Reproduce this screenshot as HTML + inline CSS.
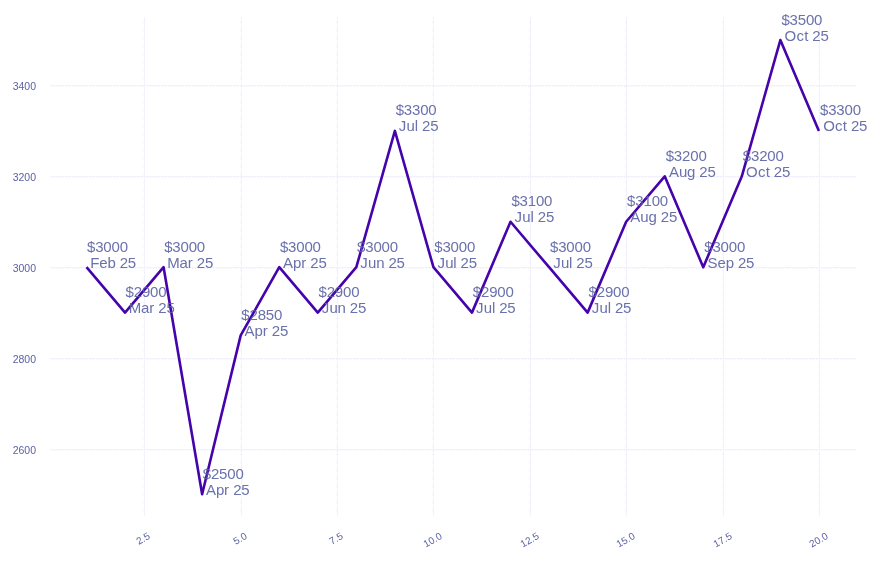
<!DOCTYPE html><html><head><meta charset="utf-8"><style>html,body{margin:0;padding:0;background:#fff;}svg{display:block;}text{font-family:"Liberation Sans",sans-serif;}</style></head><body>
<svg width="880" height="562" viewBox="0 0 880 562" style="will-change:transform">
<rect width="880" height="562" fill="#fff"/>
<line x1="50" x2="856" y1="449.5" y2="449.5" stroke="#f2f1fd" stroke-width="1"/>
<line x1="50" x2="856" y1="450.5" y2="450.5" stroke="#f0effc" stroke-width="1" stroke-dasharray="1 2" stroke-dashoffset="2"/>
<line x1="50" x2="856" y1="358.5" y2="358.5" stroke="#f2f1fd" stroke-width="1"/>
<line x1="50" x2="856" y1="359.5" y2="359.5" stroke="#f0effc" stroke-width="1" stroke-dasharray="1 2" stroke-dashoffset="2"/>
<line x1="50" x2="856" y1="267.5" y2="267.5" stroke="#f2f1fd" stroke-width="1"/>
<line x1="50" x2="856" y1="268.5" y2="268.5" stroke="#f0effc" stroke-width="1" stroke-dasharray="1 2" stroke-dashoffset="2"/>
<line x1="50" x2="856" y1="176.5" y2="176.5" stroke="#f2f1fd" stroke-width="1"/>
<line x1="50" x2="856" y1="177.5" y2="177.5" stroke="#f0effc" stroke-width="1" stroke-dasharray="1 2" stroke-dashoffset="2"/>
<line x1="50" x2="856" y1="85.5" y2="85.5" stroke="#f2f1fd" stroke-width="1"/>
<line x1="50" x2="856" y1="86.5" y2="86.5" stroke="#f0effc" stroke-width="1" stroke-dasharray="1 2" stroke-dashoffset="2"/>
<line x1="144.5" x2="144.5" y1="17" y2="516" stroke="#f2f1fd" stroke-width="1"/>
<line x1="143.5" x2="143.5" y1="17" y2="516" stroke="#f0effc" stroke-width="1" stroke-dasharray="1 7" stroke-dashoffset="3"/>
<line x1="241.5" x2="241.5" y1="17" y2="516" stroke="#f2f1fd" stroke-width="1"/>
<line x1="240.5" x2="240.5" y1="17" y2="516" stroke="#f0effc" stroke-width="1" stroke-dasharray="1 7" stroke-dashoffset="3"/>
<line x1="337.5" x2="337.5" y1="17" y2="516" stroke="#f2f1fd" stroke-width="1"/>
<line x1="336.5" x2="336.5" y1="17" y2="516" stroke="#f0effc" stroke-width="1" stroke-dasharray="1 7" stroke-dashoffset="3"/>
<line x1="433.5" x2="433.5" y1="17" y2="516" stroke="#f2f1fd" stroke-width="1"/>
<line x1="432.5" x2="432.5" y1="17" y2="516" stroke="#f0effc" stroke-width="1" stroke-dasharray="1 7" stroke-dashoffset="3"/>
<line x1="530.5" x2="530.5" y1="17" y2="516" stroke="#f2f1fd" stroke-width="1"/>
<line x1="529.5" x2="529.5" y1="17" y2="516" stroke="#f0effc" stroke-width="1" stroke-dasharray="1 7" stroke-dashoffset="3"/>
<line x1="626.5" x2="626.5" y1="17" y2="516" stroke="#f2f1fd" stroke-width="1"/>
<line x1="625.5" x2="625.5" y1="17" y2="516" stroke="#f0effc" stroke-width="1" stroke-dasharray="1 7" stroke-dashoffset="3"/>
<line x1="723.5" x2="723.5" y1="17" y2="516" stroke="#f2f1fd" stroke-width="1"/>
<line x1="722.5" x2="722.5" y1="17" y2="516" stroke="#f0effc" stroke-width="1" stroke-dasharray="1 7" stroke-dashoffset="3"/>
<line x1="819.5" x2="819.5" y1="17" y2="516" stroke="#f2f1fd" stroke-width="1"/>
<line x1="818.5" x2="818.5" y1="17" y2="516" stroke="#f0effc" stroke-width="1" stroke-dasharray="1 7" stroke-dashoffset="3"/>
<text x="36" y="454.10" text-anchor="end" font-size="10.5" fill="#5b61a6">2600</text>
<text x="36" y="363.10" text-anchor="end" font-size="10.5" fill="#5b61a6">2800</text>
<text x="36" y="272.10" text-anchor="end" font-size="10.5" fill="#5b61a6">3000</text>
<text x="36" y="181.10" text-anchor="end" font-size="10.5" fill="#5b61a6">3200</text>
<text x="36" y="90.10" text-anchor="end" font-size="10.5" fill="#5b61a6">3400</text>
<text transform="translate(142.90,538.34) rotate(-30)" x="0" y="3.6" text-anchor="middle" font-size="10" fill="#5b61a6">2.5</text>
<text transform="translate(239.90,538.34) rotate(-30)" x="0" y="3.6" text-anchor="middle" font-size="10" fill="#5b61a6">5.0</text>
<text transform="translate(335.90,538.34) rotate(-30)" x="0" y="3.6" text-anchor="middle" font-size="10" fill="#5b61a6">7.5</text>
<text transform="translate(432.50,539.73) rotate(-30)" x="0" y="3.6" text-anchor="middle" font-size="10" fill="#5b61a6">10.0</text>
<text transform="translate(529.50,539.73) rotate(-30)" x="0" y="3.6" text-anchor="middle" font-size="10" fill="#5b61a6">12.5</text>
<text transform="translate(625.50,539.73) rotate(-30)" x="0" y="3.6" text-anchor="middle" font-size="10" fill="#5b61a6">15.0</text>
<text transform="translate(722.50,539.73) rotate(-30)" x="0" y="3.6" text-anchor="middle" font-size="10" fill="#5b61a6">17.5</text>
<text transform="translate(818.50,539.73) rotate(-30)" x="0" y="3.6" text-anchor="middle" font-size="10" fill="#5b61a6">20.0</text>
<polyline points="86.50,267.20 125.05,312.62 163.59,267.20 202.14,494.30 240.69,335.33 279.24,267.20 317.78,312.62 356.33,267.20 394.88,130.94 433.43,267.20 471.97,312.62 510.52,221.78 549.07,267.20 587.62,312.62 626.16,221.78 664.71,176.36 703.26,267.20 741.81,176.36 780.35,40.10 818.90,130.94" fill="none" stroke="#4503ab" stroke-width="2.6" stroke-linejoin="round" stroke-linecap="butt"/>
<text transform="translate(86.50,267.60) scale(1,1.0)" font-size="15" fill="#5a62a2" fill-opacity="0.9" xml:space="preserve"><tspan x="0.50 8.67 16.84 25.01 33.18" y="-16.00">$3000</tspan><tspan x="-0.40 3.68 12.77 20.94 29.11 33.19 41.36" y="0"> Feb 25</tspan></text>
<text transform="translate(125.05,313.02) scale(1,1.0)" font-size="15" fill="#5a62a2" fill-opacity="0.9" xml:space="preserve"><tspan x="0.53 8.70 16.88 25.05 33.22" y="-16.00">$2900</tspan><tspan x="-0.37 3.72 15.96 24.14 29.13 33.22 41.39" y="0"> Mar 25</tspan></text>
<text transform="translate(163.59,267.60) scale(1,1.0)" font-size="15" fill="#5a62a2" fill-opacity="0.9" xml:space="preserve"><tspan x="0.57 8.74 16.91 25.08 33.25" y="-16.00">$3000</tspan><tspan x="-0.33 3.75 16.00 24.17 29.17 33.25 41.42" y="0"> Mar 25</tspan></text>
<text transform="translate(202.14,494.70) scale(1,1.0)" font-size="15" fill="#5a62a2" fill-opacity="0.9" xml:space="preserve"><tspan x="0.60 8.77 16.94 25.11 33.28" y="-16.00">$2500</tspan><tspan x="-0.30 3.78 13.79 21.96 26.95 31.04 39.21" y="0"> Apr 25</tspan></text>
<text transform="translate(240.69,335.73) scale(1,1.0)" font-size="15" fill="#5a62a2" fill-opacity="0.9" xml:space="preserve"><tspan x="0.63 8.80 16.97 25.15 33.32" y="-16.00">$2850</tspan><tspan x="-0.27 3.82 13.82 21.99 26.99 31.07 39.24" y="0"> Apr 25</tspan></text>
<text transform="translate(279.24,267.60) scale(1,1.0)" font-size="15" fill="#5a62a2" fill-opacity="0.9" xml:space="preserve"><tspan x="0.67 8.84 17.01 25.18 33.35" y="-16.00">$3000</tspan><tspan x="-0.24 3.85 13.85 22.02 27.02 31.10 39.27" y="0"> Apr 25</tspan></text>
<text transform="translate(317.78,313.02) scale(1,1.0)" font-size="15" fill="#5a62a2" fill-opacity="0.9" xml:space="preserve"><tspan x="0.70 8.87 17.04 25.21 33.38" y="-16.00">$2900</tspan><tspan x="-0.20 3.88 11.63 19.80 27.97 32.06 40.23" y="0"> Jun 25</tspan></text>
<text transform="translate(356.33,267.60) scale(1,1.0)" font-size="15" fill="#5a62a2" fill-opacity="0.9" xml:space="preserve"><tspan x="0.73 8.90 17.07 25.24 33.42" y="-16.00">$3000</tspan><tspan x="-0.17 3.91 11.66 19.84 28.01 32.09 40.26" y="0"> Jun 25</tspan></text>
<text transform="translate(394.88,131.34) scale(1,1.0)" font-size="15" fill="#5a62a2" fill-opacity="0.9" xml:space="preserve"><tspan x="0.76 8.94 17.11 25.28 33.45" y="-16.00">$3300</tspan><tspan x="-0.14 3.95 11.70 19.87 23.04 27.12 35.29" y="0"> Jul 25</tspan></text>
<text transform="translate(433.43,267.60) scale(1,1.0)" font-size="15" fill="#5a62a2" fill-opacity="0.9" xml:space="preserve"><tspan x="0.80 8.97 17.14 25.31 33.48" y="-16.00">$3000</tspan><tspan x="-0.10 3.98 11.73 19.90 23.07 27.15 35.32" y="0"> Jul 25</tspan></text>
<text transform="translate(471.97,313.02) scale(1,1.0)" font-size="15" fill="#5a62a2" fill-opacity="0.9" xml:space="preserve"><tspan x="0.83 9.00 17.17 25.34 33.51" y="-16.00">$2900</tspan><tspan x="-0.07 4.01 11.76 19.93 23.10 27.18 35.36" y="0"> Jul 25</tspan></text>
<text transform="translate(510.52,222.18) scale(1,1.0)" font-size="15" fill="#5a62a2" fill-opacity="0.9" xml:space="preserve"><tspan x="0.86 9.03 17.21 25.38 33.55" y="-16.00">$3100</tspan><tspan x="-0.04 4.05 11.80 19.97 23.13 27.22 35.39" y="0"> Jul 25</tspan></text>
<text transform="translate(549.07,267.60) scale(1,1.0)" font-size="15" fill="#5a62a2" fill-opacity="0.9" xml:space="preserve"><tspan x="0.90 9.07 17.24 25.41 33.58" y="-16.00">$3000</tspan><tspan x="-0.00 4.08 11.83 20.00 23.17 27.25 35.42" y="0"> Jul 25</tspan></text>
<text transform="translate(587.62,313.02) scale(1,1.0)" font-size="15" fill="#5a62a2" fill-opacity="0.9" xml:space="preserve"><tspan x="0.93 9.10 17.27 25.44 33.61" y="-16.00">$2900</tspan><tspan x="0.03 4.11 11.86 20.03 23.20 27.28 35.46" y="0"> Jul 25</tspan></text>
<text transform="translate(626.16,222.18) scale(1,1.0)" font-size="15" fill="#5a62a2" fill-opacity="0.9" xml:space="preserve"><tspan x="0.96 9.13 17.30 25.48 33.65" y="-16.00">$3100</tspan><tspan x="0.06 4.15 14.15 22.32 30.49 34.57 42.75" y="0"> Aug 25</tspan></text>
<text transform="translate(664.71,176.76) scale(1,1.0)" font-size="15" fill="#5a62a2" fill-opacity="0.9" xml:space="preserve"><tspan x="0.99 9.17 17.34 25.51 33.68" y="-16.00">$3200</tspan><tspan x="0.09 4.18 14.18 22.35 30.52 34.61 42.78" y="0"> Aug 25</tspan></text>
<text transform="translate(703.26,267.60) scale(1,1.0)" font-size="15" fill="#5a62a2" fill-opacity="0.9" xml:space="preserve"><tspan x="1.03 9.20 17.37 25.54 33.71" y="-16.00">$3000</tspan><tspan x="0.13 4.21 14.21 22.39 30.56 34.64 42.81" y="0"> Sep 25</tspan></text>
<text transform="translate(741.81,176.76) scale(1,1.0)" font-size="15" fill="#5a62a2" fill-opacity="0.9" xml:space="preserve"><tspan x="1.06 9.23 17.40 25.57 33.75" y="-16.00">$3200</tspan><tspan x="0.16 4.24 16.08 23.83 27.91 32.00 40.17" y="0"> Oct 25</tspan></text>
<text transform="translate(780.35,40.50) scale(1,1.0)" font-size="15" fill="#5a62a2" fill-opacity="0.9" xml:space="preserve"><tspan x="1.09 9.27 17.44 25.61 33.78" y="-16.00">$3500</tspan><tspan x="0.19 4.28 16.11 23.86 27.95 32.03 40.20" y="0"> Oct 25</tspan></text>
<text transform="translate(818.90,131.34) scale(1,1.0)" font-size="15" fill="#5a62a2" fill-opacity="0.9" xml:space="preserve"><tspan x="1.13 9.30 17.47 25.64 33.81" y="-16.00">$3300</tspan><tspan x="0.23 4.31 16.14 23.89 27.98 32.06 40.23" y="0"> Oct 25</tspan></text>
</svg></body></html>
